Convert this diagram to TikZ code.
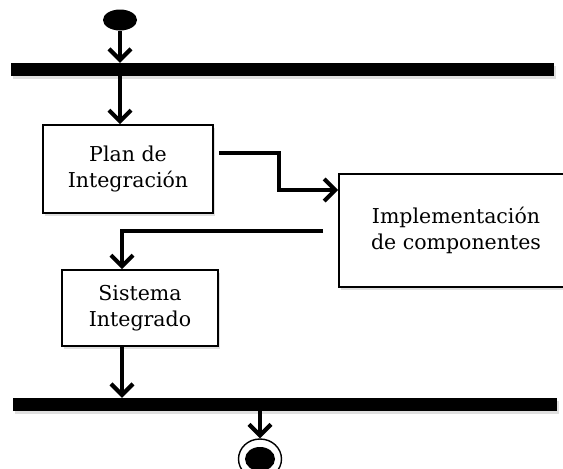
\documentclass[tikz,border=0pt]{standalone}
\usepackage{fontspec}
\setmainfont{DejaVu Serif}
\usetikzlibrary{arrows.meta,shapes.geometric,shadows,calc}
\begin{document}
\begin{tikzpicture}[x=1pt,y=-1pt,
  shadowed/.style={drop shadow={opacity=0.25,shadow xshift=2pt,shadow yshift=-3pt}},
  activity/.style={draw,line width=1.6pt,fill=white,shadowed,inner sep=0pt,
    align=center,font=\fontsize{20.5}{26}\selectfont},
  syncbar/.style={fill=black,shadowed,inner sep=0pt},
  flow/.style={line width=4.2pt,-{Straight Barb[length=11pt,width=22pt,line width=4.2pt]}}]
  \useasboundingbox (0,0) rectangle (563,469);

  % initial state
  \node[ellipse,fill=black,minimum width=34pt,minimum height=21pt,inner sep=0pt] (start) at (120,20) {};

  % fork / join bars
  \node[syncbar,minimum width=543pt,minimum height=13pt] (topbar) at (282.5,69.5) {};
  \node[syncbar,minimum width=544pt,minimum height=13pt] (botbar) at (285,404.5) {};

  % activities
  \node[activity,minimum width=170pt,minimum height=88pt] (plan) at (128,169) {Plan de\\Integración};
  \node[activity,minimum width=234pt,minimum height=113pt] (impl) at (456,230.5) {Implementación\\de componentes};
  \node[activity,minimum width=156pt,minimum height=76pt] (sist) at (140,308) {Sistema\\Integrado};

  % final state
  \node[ellipse,draw,line width=1.4pt,fill=white,minimum width=43pt,minimum height=40pt,inner sep=0pt] (final) at (260,459) {};
  \node[ellipse,fill=black,minimum width=30pt,minimum height=24pt,inner sep=0pt] (finaldot) at (260,459) {};

  % connector anchor points
  \coordinate (p1) at ($(plan.east)+(5,-16)$);
  \coordinate (p2) at (279,153);
  \coordinate (p3) at (279,190);
  \coordinate (i1) at (323,231);
  \coordinate (i2) at (122,231);

  % flows
  \draw[flow] (start.south) -- (start.south |- topbar.north);
  \draw[flow] (start.south |- topbar.south) -- (start.south |- plan.north);
  \draw[flow] (p1) -- (p2) -- (p3) -- (p3 -| impl.west);
  \draw[flow] (i1) -- (i2) -- (i2 |- sist.north);
  \draw[flow] (i2 |- sist.south) -- (i2 |- botbar.north);
  \draw[flow] (final.north |- botbar.south) -- (final.north);
\end{tikzpicture}
\end{document}
